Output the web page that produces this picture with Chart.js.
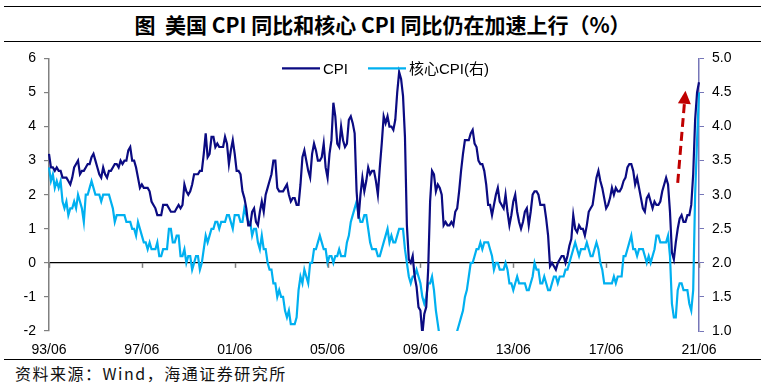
<!DOCTYPE html>
<html>
<head>
<meta charset="utf-8">
<script src="https://cdn.jsdelivr.net/npm/chart.js@4"></script>
<style>
  html, body { margin:0; padding:0; background:#fff; }
  body { width:765px; height:386px; position:relative; overflow:hidden; }
  #title { position:absolute; left:4px; right:4px; top:6px; height:34px;
    border-top:1.5px solid #000; border-bottom:1.5px solid #000;
    font: bold 21px "Noto Sans CJK SC", "Liberation Sans", sans-serif; color:#000;
    display:flex; align-items:center; justify-content:center; white-space:pre; }
  #wrap { position:absolute; left:0; top:42px; width:765px; height:317px; }
  #src { position:absolute; left:4px; right:4px; top:359px; height:26px;
    border-top:1.5px solid #000; font: 16px "Noto Sans CJK SC", sans-serif; color:#111;
    letter-spacing:1.5px; padding-left:11px; line-height:26px; box-sizing:border-box; }
</style>
</head>
<body>
<div id="title">图  美国 CPI 同比和核心 CPI 同比仍在加速上行（%）</div>
<div id="wrap"><canvas id="c" width="765" height="317"></canvas></div>
<div id="src">资料来源：Wind，海通证券研究所</div>
<script>
// ---- data (monthly, 1993/06 - 2021/06) ----
const startYear = 1993, startMonth = 6;
const seriesNames = ['CPI', '核心CPI(右)'];
// US CPI YoY (%), left axis
const cpi = [
  3.2, 2.8, 2.8, 2.7, 2.8, 2.7, 2.7,
  2.5, 2.5, 2.5, 2.4, 2.3, 2.5, 2.8, 2.9, 3.0, 2.6, 2.7, 2.7,
  2.8, 2.9, 2.9, 3.1, 3.2, 3.0, 2.8, 2.6, 2.5, 2.8, 2.6, 2.5,
  2.7, 2.7, 2.8, 2.9, 2.9, 2.8, 3.0, 2.9, 3.0, 3.0, 3.3, 3.4,
  3.0, 3.0, 2.8, 2.5, 2.2, 2.3, 2.2, 2.2, 2.2, 2.1, 1.8, 1.7,
  1.6, 1.4, 1.4, 1.4, 1.7, 1.7, 1.7, 1.6, 1.5, 1.5, 1.5, 1.6,
  1.7, 1.6, 1.7, 2.3, 2.1, 2.0, 2.1, 2.3, 2.6, 2.6, 2.6, 2.7,
  2.7, 3.2, 3.8, 3.1, 3.2, 3.7, 3.7, 3.4, 3.5, 3.4, 3.4, 3.4,
  3.7, 3.5, 2.9, 3.3, 3.6, 3.2, 2.7, 2.7, 2.6, 2.1, 1.9, 1.6,
  1.1, 1.1, 1.5, 1.6, 1.2, 1.1, 1.5, 1.8, 1.5, 2.0, 2.2, 2.4,
  2.6, 3.0, 3.0, 2.2, 2.1, 2.1, 2.1, 2.2, 2.3, 2.0, 1.8, 1.9,
  1.9, 1.7, 1.7, 2.3, 3.1, 3.3, 3.0, 2.7, 2.5, 3.2, 3.5, 3.3,
  3.0, 3.0, 3.1, 3.5, 2.8, 2.5, 3.2, 3.6, 4.7, 4.3, 3.5, 3.4,
  4.0, 3.6, 3.4, 3.5, 4.2, 4.3, 4.1, 3.8, 2.1, 1.3, 2.0, 2.5,
  2.1, 2.4, 2.8, 2.6, 2.7, 2.7, 2.4, 2.0, 2.8, 3.5, 4.3, 4.1,
  4.3, 4.0, 4.0, 3.9, 4.2, 5.0, 5.6, 5.4, 4.9, 3.7, 1.1, 0.1,
  0.0, 0.2, -0.4, -0.7, -1.3, -1.4, -2.1, -1.5, -1.3, -0.2, 1.8, 2.7,
  2.6, 2.1, 2.3, 2.2, 2.0, 1.1, 1.2, 1.1, 1.1, 1.2, 1.1, 1.5,
  1.6, 2.1, 2.7, 3.2, 3.6, 3.6, 3.6, 3.8, 3.9, 3.5, 3.4, 3.0,
  2.9, 2.9, 2.7, 2.3, 1.7, 1.7, 1.4, 1.7, 2.0, 2.2, 1.8, 1.7,
  1.6, 2.0, 1.5, 1.1, 1.4, 1.8, 2.0, 1.5, 1.2, 1.0, 1.2, 1.5,
  1.6, 1.1, 1.5, 2.0, 2.1, 2.1, 2.0, 1.7, 1.7, 1.7, 1.3, 0.8,
  -0.1, 0.0, -0.1, -0.2, 0.0, 0.1, 0.2, 0.2, 0.0, 0.2, 0.5, 0.7,
  1.4, 1.0, 0.9, 1.1, 1.0, 1.0, 0.8, 1.1, 1.5, 1.6, 1.7, 2.1,
  2.5, 2.7, 2.4, 2.2, 1.9, 1.6, 1.7, 1.9, 2.2, 2.0, 2.2, 2.1,
  2.1, 2.2, 2.4, 2.5, 2.8, 2.9, 2.9, 2.7, 2.3, 2.5, 2.2, 1.9,
  1.6, 1.5, 1.9, 2.0, 1.8, 1.6, 1.8, 1.7, 1.7, 1.8, 2.1, 2.3,
  2.5, 2.3, 1.5, 0.3, 0.1, 0.6, 1.0, 1.3, 1.4, 1.2, 1.2, 1.4,
  1.4, 1.7, 2.6, 4.2, 5.0, 5.3
];
// US core CPI YoY (%), right axis
const core = [
  3.4, 3.2, 3.3, 3.1, 3.2, 3.1, 3.2,
  2.9, 2.8, 2.9, 2.7, 2.8, 2.8, 2.9, 2.8, 3.0, 2.9, 2.8, 2.6,
  3.0, 3.0, 3.1, 3.2, 3.1, 3.0, 3.0, 3.0, 2.9, 3.0, 3.0, 3.0,
  3.0, 2.9, 2.8, 2.6, 2.7, 2.7, 2.7, 2.7, 2.7, 2.6, 2.6, 2.6,
  2.5, 2.5, 2.4, 2.6, 2.5, 2.4, 2.3, 2.3, 2.2, 2.3, 2.2, 2.2,
  2.2, 2.3, 2.1, 2.1, 2.2, 2.2, 2.2, 2.5, 2.5, 2.3, 2.3, 2.4,
  2.4, 2.1, 2.1, 2.2, 2.0, 2.1, 2.1, 1.9, 2.0, 2.1, 2.1, 1.9,
  2.0, 2.2, 2.4, 2.3, 2.4, 2.5, 2.5, 2.6, 2.6, 2.5, 2.6, 2.6,
  2.6, 2.7, 2.7, 2.6, 2.5, 2.7, 2.7, 2.7, 2.6, 2.6, 2.8, 2.7,
  2.6, 2.6, 2.4, 2.5, 2.5, 2.3, 2.2, 2.4, 2.2, 2.2, 2.0, 1.9,
  1.9, 1.7, 1.7, 1.5, 1.6, 1.5, 1.5, 1.3, 1.2, 1.3, 1.1, 1.1,
  1.1, 1.2, 1.6, 1.8, 1.7, 1.9, 1.8, 1.7, 2.0, 2.0, 2.2, 2.2,
  2.3, 2.4, 2.3, 2.2, 2.2, 2.0, 2.1, 2.1, 2.0, 2.1, 2.1, 2.2,
  2.1, 2.1, 2.1, 2.3, 2.4, 2.6, 2.7, 2.8, 2.9, 2.7, 2.6, 2.6,
  2.7, 2.7, 2.5, 2.3, 2.2, 2.2, 2.2, 2.1, 2.1, 2.2, 2.3, 2.4,
  2.5, 2.3, 2.4, 2.3, 2.3, 2.4, 2.5, 2.5, 2.5, 2.2, 2.0, 1.8,
  1.7, 1.8, 1.8, 1.9, 1.8, 1.7, 1.5, 1.4, 1.5, 1.7, 1.7, 1.8,
  1.6, 1.3, 1.1, 0.9, 0.9, 0.9, 0.9, 0.9, 0.8, 0.6, 0.8, 0.8,
  1.0, 1.1, 1.2, 1.3, 1.5, 1.6, 1.8, 2.0, 2.0, 2.1, 2.2, 2.2,
  2.3, 2.2, 2.3, 2.3, 2.3, 2.2, 2.1, 1.9, 2.0, 2.0, 1.9, 1.9,
  1.9, 2.0, 1.9, 1.7, 1.7, 1.6, 1.7, 1.8, 1.7, 1.7, 1.7, 1.7,
  1.6, 1.6, 1.7, 1.8, 2.0, 1.9, 1.9, 1.7, 1.7, 1.8, 1.7, 1.6,
  1.6, 1.7, 1.8, 1.8, 1.7, 1.8, 1.8, 1.8, 1.9, 1.9, 2.0, 2.1,
  2.2, 2.3, 2.2, 2.1, 2.2, 2.2, 2.2, 2.3, 2.2, 2.1, 2.1, 2.2,
  2.3, 2.2, 2.0, 1.9, 1.7, 1.7, 1.7, 1.7, 1.7, 1.8, 1.7, 1.8,
  1.8, 1.8, 2.1, 2.1, 2.2, 2.3, 2.4, 2.2, 2.2, 2.1, 2.2, 2.2,
  2.2, 2.1, 2.0, 2.1, 2.0, 2.1, 2.2, 2.4, 2.4, 2.3, 2.3, 2.3,
  2.3, 2.4, 2.1, 1.4, 1.2, 1.2, 1.6, 1.7, 1.7, 1.6, 1.6, 1.6,
  1.4, 1.3, 1.6, 3.0, 3.8, 4.5
];
const tickEvery = 48; // one x label every 4 years (93/06, 97/06, ...)
const leftTicks = { min: -2, max: 6, step: 1 };
const rightTicks = { min: 1, max: 5, step: 0.5 };

// categories YY/MM
const categories = [];
{
  let y = startYear, m = startMonth;
  for (let i = 0; i < cpi.length; i++) {
    categories.push(String(y % 100).padStart(2, '0') + '/' + String(m).padStart(2, '0'));
    m++; if (m > 12) { m = 1; y++; }
  }
}

const NAVY = '#0b0b82', LIGHT = '#00b0f0';
const tickFont = { family: '"Liberation Sans", Arial, sans-serif', size: 14 };

// legend drawn inside plot area
const inLegend = {
  id: 'inLegend',
  afterDraw(chart, args, opts) {
    const ctx = chart.ctx, area = chart.chartArea;
    ctx.save();
    ctx.font = '15px "Liberation Sans", "Noto Sans CJK SC", sans-serif';
    ctx.textBaseline = 'middle';
    let x = area.left + opts.offsetX;
    const y = area.top + opts.offsetY;
    chart.data.datasets.forEach(ds => {
      ctx.strokeStyle = ds.borderColor; ctx.lineWidth = ds.borderWidth;
      ctx.beginPath(); ctx.moveTo(x, y); ctx.lineTo(x + opts.lineLen, y); ctx.stroke();
      x += opts.lineLen + opts.textGap;
      ctx.fillStyle = '#000';
      ctx.fillText(ds.label, x, y + 1);
      x += ctx.measureText(ds.label).width + opts.itemGap;
    });
    ctx.restore();
  }
};

// small tick marks on the zero line
const zeroTicks = {
  id: 'zeroTicks',
  afterDatasetsDraw(chart) {
    const ctx = chart.ctx, xs = chart.scales.x, ys = chart.scales.y;
    const y0 = ys.getPixelForValue(0);
    ctx.save();
    ctx.strokeStyle = '#808080'; ctx.lineWidth = 1.5;
    for (let i = 0; i < categories.length; i += tickEvery) {
      const x = Math.round(xs.getPixelForValue(i)) + 0.5;
      ctx.beginPath(); ctx.moveTo(x, y0); ctx.lineTo(x, y0 + 5); ctx.stroke();
    }
    ctx.restore();
  }
};

// red dashed arrow annotation
const arrow = {
  id: 'arrow',
  afterDatasetsDraw(chart, args, o) {
    const ctx = chart.ctx, xs = chart.scales.x, ys = chart.scales.y;
    const x1 = xs.getPixelForValue(o.from[0]), y1 = ys.getPixelForValue(o.from[1]);
    const x2 = xs.getPixelForValue(o.to[0]), y2 = ys.getPixelForValue(o.to[1]);
    const dx = x2 - x1, dy = y2 - y1, len = Math.hypot(dx, dy);
    const ux = dx / len, uy = dy / len;
    const hl = 13, hw = 6.5;
    const bx = x2 - ux * hl, by = y2 - uy * hl;
    ctx.save();
    ctx.strokeStyle = '#c00000'; ctx.fillStyle = '#c00000';
    ctx.lineWidth = 3; ctx.setLineDash([9, 5]);
    ctx.beginPath(); ctx.moveTo(x1, y1); ctx.lineTo(bx, by); ctx.stroke();
    ctx.setLineDash([]);
    ctx.beginPath();
    ctx.moveTo(x2, y2);
    ctx.lineTo(bx - uy * hw, by + ux * hw);
    ctx.lineTo(bx + uy * hw, by - ux * hw);
    ctx.closePath(); ctx.fill();
    ctx.restore();
  }
};

new Chart(document.getElementById('c'), {
  type: 'line',
  data: {
    labels: categories,
    datasets: [
      { label: seriesNames[0], data: cpi, borderColor: NAVY, backgroundColor: NAVY, borderWidth: 2.2,
        pointRadius: 0, yAxisID: 'y', tension: 0 },
      { label: seriesNames[1], data: core, borderColor: LIGHT, backgroundColor: LIGHT, borderWidth: 2.2,
        pointRadius: 0, yAxisID: 'y1', tension: 0 }
    ]
  },
  plugins: [inLegend, zeroTicks, arrow],
  options: {
    responsive: false,
    animation: false,
    devicePixelRatio: 1,
    layout: { padding: { top: 15, left: 0, right: 0, bottom: 0 } },
    plugins: {
      legend: { display: false },
      tooltip: { enabled: false },
      inLegend: { offsetX: 233, offsetY: 10, lineLen: 38, textGap: 3, itemGap: 20 },
      arrow: { from: [325, 2.35], to: [329, 5.05] }
    },
    scales: {
      x: {
        type: 'category',
        grid: { display: false, drawTicks: false },
        border: { display: false },
        ticks: {
          autoSkip: false, maxRotation: 0, minRotation: 0, padding: 11,
          color: '#000', font: tickFont,
          callback(v, i) { return i % tickEvery === 0 ? this.getLabelForValue(v) : null; }
        },
        afterFit(s) { s.height = 28; }
      },
      y: {
        position: 'left', min: leftTicks.min, max: leftTicks.max,
        ticks: { stepSize: leftTicks.step, color: '#000', font: tickFont, padding: 8 },
        grid: {
          color: c => (c.tick && c.tick.value === 0 ? '#000' : 'rgba(0,0,0,0)'),
          lineWidth: 1.2, tickColor: '#808080', tickLength: 5, drawTicks: true
        },
        border: { color: '#808080', width: 1.5 },
        afterFit(s) { s.width = 49; }
      },
      y1: {
        position: 'right', min: rightTicks.min, max: rightTicks.max,
        ticks: { stepSize: rightTicks.step, color: '#000', font: tickFont, padding: 8,
          callback: v => Number(v).toFixed(1) },
        grid: { drawOnChartArea: false, tickColor: '#7676b8', tickLength: 5 },
        border: { color: '#7676b8', width: 1.5 },
        afterFit(s) { s.width = 66; }
      }
    }
  }
});
</script>
</body>
</html>
